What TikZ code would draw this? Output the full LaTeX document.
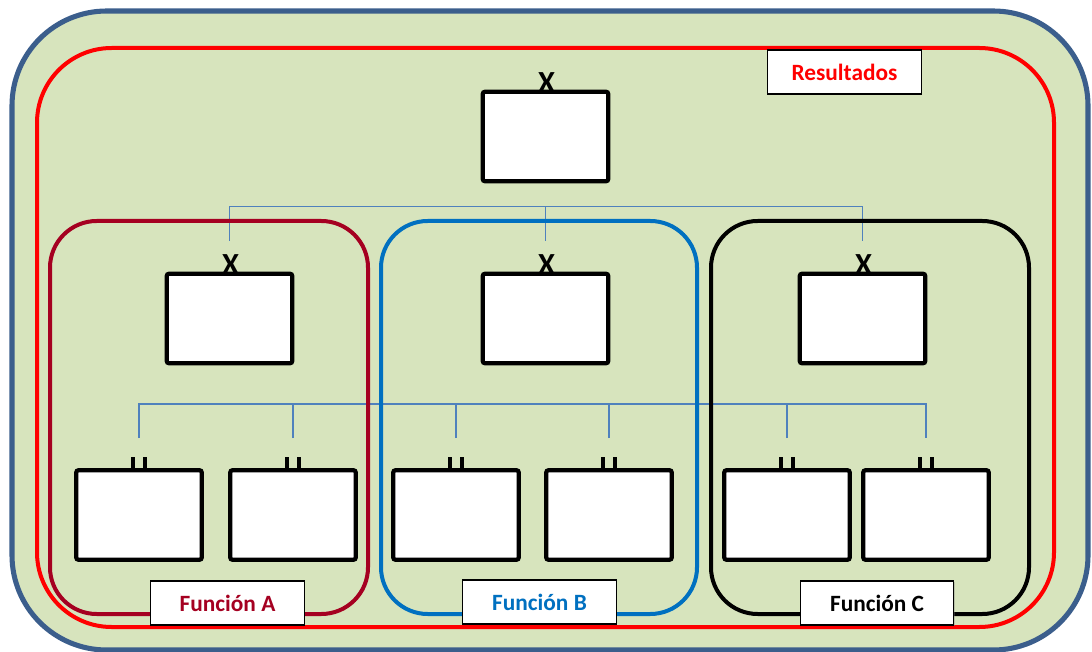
\documentclass[tikz,border=0pt]{standalone}
\usepackage{fontspec}
\setmainfont{Carlito}
\usetikzlibrary{calc,shadows}
\definecolor{bgfill}{HTML}{D7E4BD}
\definecolor{outerc}{HTML}{3B5E8C}
\definecolor{resred}{HTML}{FF0000}
\definecolor{funA}{HTML}{A50021}
\definecolor{funB}{HTML}{0070C0}
\definecolor{connc}{HTML}{4F81BD}
\pgfdeclarelayer{bglayer}
\pgfdeclarelayer{midlayer}
\pgfsetlayers{bglayer,midlayer,main}
\tikzset{
  entbox/.style={draw=black, fill=white, line width=3.2pt, rounded corners=1.5pt,
    minimum width=94pt, minimum height=67pt, inner sep=0pt},
  conn/.style={draw=connc, line width=1.2pt},
  xmark/.style={font=\bfseries\fontsize{23}{23}\selectfont, inner sep=0pt, anchor=base},
  tickmark/.style={draw=black, line width=2.8pt},
  labelbox/.style={draw=black, fill=white, line width=0.9pt, font=\bfseries\fontsize{17.5}{17.5}\selectfont,
    minimum width=115pt, minimum height=33pt, inner sep=0pt,
    drop shadow={shadow xshift=0.8pt, shadow yshift=-0.8pt, opacity=0.35}},
  group/.style={line width=3pt, rounded corners=35pt}
}
\begin{document}
\begin{tikzpicture}[x=0.75pt,y=-0.75pt]
\useasboundingbox (0,0) rectangle (1092,652);
% entity boxes
\node[entbox] (top) at (545.5,136.5) {};
\node[entbox] (m1) at (229.5,318.5) {};
\node[entbox] (m2) at (545.5,318.5) {};
\node[entbox] (m3) at (862.5,318.5) {};
\node[entbox] (b1) at (139,515) {};
\node[entbox] (b2) at (293,515) {};
\node[entbox] (b3) at (456,515) {};
\node[entbox] (b4) at (609,515) {};
\node[entbox] (b5) at (787,515) {};
\node[entbox] (b6) at (926,515) {};
% X marks
\foreach \n in {top,m1,m2,m3}{
  \node[xmark] at ($(\n.north)+(1,3)$) {X};
}
% double ticks
\foreach \n in {b1,b2,b3,b4,b5,b6}{
  \draw[tickmark] ($(\n.north)+(-6,1)$) -- ++(0,-12);
  \draw[tickmark] ($(\n.north)+(6,1)$) -- ++(0,-12);
}
\begin{pgfonlayer}{bglayer}
  \draw[draw=outerc, fill=bgfill, line width=3.8pt, rounded corners=71pt] (12,11) rectangle (1088,650);
  \draw[draw=resred, line width=3pt, rounded corners=56pt] (37,48) rectangle (1054,627);
\end{pgfonlayer}
\begin{pgfonlayer}{midlayer}
  % connectors
  \draw[conn] ($(m1.north)+(0,-31)$) |- ($(m3.north)+(0,-65)$) -- ($(m3.north)+(0,-31)$);
  \draw[conn] ($(m2.north)+(0,-31)$) -- ($(m2.north)+(0,-65)$);
  \draw[conn] ($(b1.north)+(0,-30)$) |- ($(b6.north)+(0,-64)$) -- ($(b6.north)+(0,-30)$);
  \foreach \n in {b2,b3,b4,b5}{
    \draw[conn] ($(\n.north)+(0,-30)$) -- ($(\n.north)+(0,-64)$);
  }
  % function groups
  \draw[group, draw=funA] (50,221) rectangle (368,614);
  \draw[group, draw=funB] (381,221) rectangle (697,614);
  \draw[group, draw=black] (711,221) rectangle (1029,614);
\end{pgfonlayer}
% labels
\node[labelbox, text=resred] (lres) at (844.5,72) {Resultados};
\node[labelbox, text=funA] (lA) at (227.5,603) {Función A};
\node[labelbox, text=funB] (lB) at (539.5,602) {Función B};
\node[labelbox, text=black] (lC) at (877,603) {Función C};
\end{tikzpicture}
\end{document}
